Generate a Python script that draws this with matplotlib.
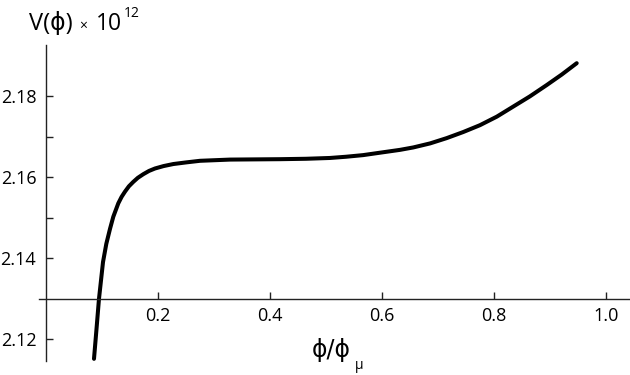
import numpy as np
import matplotlib
matplotlib.use("Agg")
import matplotlib.pyplot as plt

plt.rcParams['font.family'] = ['Open Sans', 'DejaVu Sans']

# curve: phi/phi_mu  vs  V(phi) x 10^12
phi = [0.0857, 0.0902, 0.0946, 0.1018, 0.1077, 0.1143, 0.1202, 0.1291,
       0.1350, 0.1411, 0.1480, 0.1559, 0.1640, 0.1738, 0.1840, 0.1946,
       0.2100, 0.2273, 0.2500, 0.2750, 0.3286, 0.4179, 0.4643, 0.5071,
       0.5357, 0.5661, 0.5964, 0.6321, 0.6559, 0.6860, 0.7155, 0.7450,
       0.7750, 0.8050, 0.8345, 0.8640, 0.8941, 0.9210, 0.9477]
V = [2.1151, 2.1225, 2.1299, 2.1390, 2.1435, 2.1472, 2.1502, 2.1535,
     2.1551, 2.1564, 2.1577, 2.1588, 2.1598, 2.1607, 2.1615, 2.1621,
     2.1627, 2.1632, 2.1636, 2.1640, 2.1643, 2.1644, 2.1645, 2.1647,
     2.1650, 2.1654, 2.1660, 2.1667, 2.1673, 2.1683, 2.1696, 2.1711,
     2.1728, 2.1749, 2.1774, 2.1799, 2.1827, 2.1853, 2.1881]

xticks = [0.2, 0.4, 0.6, 0.8, 1.0]
xlabels = ['0.2', '0.4', '0.6', '0.8', '1.0']
yticks = [2.12, 2.14, 2.16, 2.18]
ylabels = ['2.12', '2.14', '2.16', '2.18']
yminor = [2.15, 2.17]

W, H = 630, 375
fig = plt.figure(figsize=(W / 100, H / 100), dpi=100)
ax = fig.add_axes([0, 0, 1, 1])
ax.patch.set_alpha(0)

ax.plot(phi, V, color='black', lw=2.9, solid_capstyle='round',
        solid_joinstyle='round')

# pixel -> data scale (x: 560 px per unit, y: 81 px per 0.02)
ax.set_xlim(-46 / 560, 584 / 560)
ax.set_ylim(2.16 - 198 * 0.02 / 81, 2.16 + 177 * 0.02 / 81)

for s in ['top', 'right']:
    ax.spines[s].set_visible(False)
ax.spines['left'].set_position(('data', 0))
ax.spines['bottom'].set_position(('data', 2.13))
ax.spines['left'].set_bounds(2.1146, 2.1926)
ax.spines['bottom'].set_bounds(-0.0125, 1.05)
for s in ['left', 'bottom']:
    ax.spines[s].set_linewidth(1.0)
    ax.spines[s].set_color('#222222')

ax.set_xticks(xticks)
ax.set_xticklabels(xlabels)
ax.set_yticks(yticks)
ax.set_yticklabels(ylabels)
ax.set_yticks(yminor, minor=True)
ax.tick_params(axis='both', which='both', direction='in', length=5,
               width=1.0, color='#222222', labelsize=13)
ax.tick_params(axis='x', pad=6)
ax.tick_params(axis='y', pad=7)

def px(x, y):
    return x / W, 1 - y / H

# title pieces
fig.text(*px(29, 30), 'V(ϕ)', fontsize=17, va='baseline', ha='left')
fig.text(*px(79, 30), '×', fontsize=10, va='baseline', ha='left')
fig.text(*px(96, 30), '10', fontsize=16.5, va='baseline', ha='left')
fig.text(*px(124, 17), '12', fontsize=10, va='baseline', ha='left')

# x label pieces
fig.text(*px(312, 357), 'ϕ/ϕ', fontsize=17, va='baseline', ha='left',
         family=['DejaVu Sans'])
fig.text(*px(355, 369), 'μ', fontsize=10, va='baseline', ha='left')

fig.savefig('out.png', dpi=100)
